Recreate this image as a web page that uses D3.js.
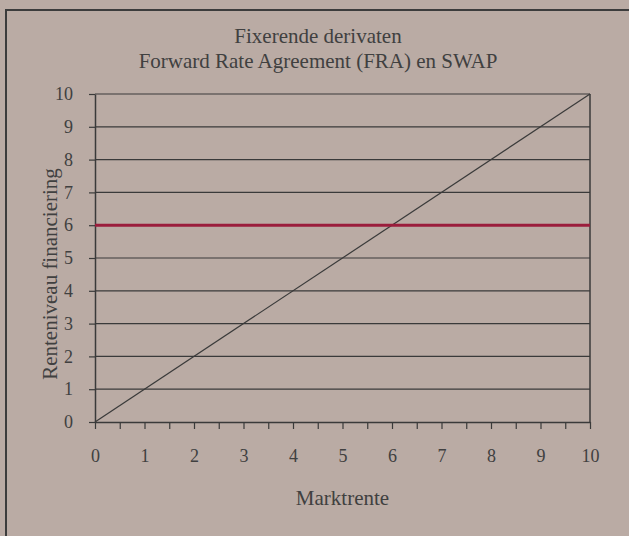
<!DOCTYPE html>
<html>
<head>
<meta charset="utf-8">
<script src="https://cdn.jsdelivr.net/npm/d3@7"></script>
<style>
  html, body { margin: 0; padding: 0; background: #baaba4; }
  svg { display: block; }
</style>
</head>
<body>
<div id="chart"></div>
<script>
const titleLines = ["Fixerende derivaten", "Forward Rate Agreement (FRA) en SWAP"];
const xLabel = "Marktrente";
const yLabel = "Renteniveau financiering";
const xTicks = [0, 1, 2, 3, 4, 5, 6, 7, 8, 9, 10];
const yTicks = [0, 1, 2, 3, 4, 5, 6, 7, 8, 9, 10];
const marketRate = [[0, 0], [10, 10]];   // variabele rente volgt marktrente
const fixedRate = [[0, 6], [10, 6]];     // gefixeerde rente via FRA / SWAP

const width = 629, height = 536;
const margins = { top: 94, right: 39, bottom: 114, left: 95 };
const innerWidth = width - margins.left - margins.right;
const innerHeight = height - margins.top - margins.bottom;
const font = "'Liberation Serif', 'Times New Roman', serif";
const ink = "#3a3a3a";

const svg = d3.select("#chart").append("svg")
    .attr("width", width)
    .attr("height", height)
    .style("font-family", font);

svg.append("rect")
    .attr("width", width).attr("height", height)
    .attr("fill", "#baaba4");

// outer frame: only top and left edges are inside the picture
svg.append("path")
    .attr("d", `M6,${height} V10 H${width}`)
    .attr("fill", "none")
    .attr("stroke", "#3c3c3c")
    .attr("stroke-width", 2);

// title
svg.append("g").selectAll("text")
    .data(titleLines)
    .join("text")
    .attr("x", 318)
    .attr("y", (d, i) => 43 + i * 25)
    .attr("text-anchor", "middle")
    .attr("font-size", 21)
    .attr("fill", "#404040")
    .text(d => d);

const x = d3.scaleLinear().domain([0, 10]).range([0, innerWidth]);
const y = d3.scaleLinear().domain([0, 10]).range([innerHeight, 0]);

const g = svg.append("g")
    .attr("transform", `translate(${margins.left},${margins.top})`);

// horizontal gridlines
g.append("g")
    .selectAll("line")
    .data(yTicks.filter(d => d > 0))
    .join("line")
    .attr("x1", 0).attr("x2", innerWidth)
    .attr("y1", d => y(d)).attr("y2", d => y(d))
    .attr("stroke", ink)
    .attr("stroke-width", 1.2);

// right border of plot
g.append("line")
    .attr("x1", innerWidth).attr("x2", innerWidth)
    .attr("y1", 0).attr("y2", innerHeight)
    .attr("stroke", ink)
    .attr("stroke-width", 1.5);

// y axis
g.append("g")
    .call(d3.axisLeft(y).tickValues(yTicks).tickSize(6).tickPadding(16).tickSizeOuter(0))
    .call(a => a.select(".domain").attr("stroke", ink).attr("stroke-width", 1.5))
    .call(a => a.selectAll(".tick line").attr("stroke", ink).attr("stroke-width", 1.2))
    .call(a => a.selectAll("text")
        .attr("font-family", font)
        .attr("font-size", 18)
        .attr("fill", "#404040"));

// x axis with half-step minor ticks
const minorTicks = d3.range(0.5, 10, 1);
g.append("g")
    .attr("transform", `translate(0,${innerHeight})`)
    .call(d3.axisBottom(x).tickValues(minorTicks).tickSize(7).tickFormat("").tickSizeOuter(0))
    .call(a => a.select(".domain").remove())
    .call(a => a.selectAll(".tick line").attr("stroke", ink).attr("stroke-width", 1.2));

g.append("g")
    .attr("transform", `translate(0,${innerHeight})`)
    .call(d3.axisBottom(x).tickValues(xTicks).tickSize(7).tickPadding(20).tickSizeOuter(0))
    .call(a => a.select(".domain").attr("stroke", ink).attr("stroke-width", 1.5))
    .call(a => a.selectAll(".tick line").attr("stroke", ink).attr("stroke-width", 1.2))
    .call(a => a.selectAll("text")
        .attr("font-family", font)
        .attr("font-size", 18)
        .attr("fill", "#404040"));

const line = d3.line().x(d => x(d[0])).y(d => y(d[1]));

g.append("path")
    .datum(marketRate)
    .attr("d", line)
    .attr("fill", "none")
    .attr("stroke", ink)
    .attr("stroke-width", 1.2);

g.append("path")
    .datum(fixedRate)
    .attr("d", line)
    .attr("fill", "none")
    .attr("stroke", "#9b1d3c")
    .attr("stroke-width", 3);

// axis titles
svg.append("text")
    .attr("x", margins.left + innerWidth / 2)
    .attr("y", 505)
    .attr("text-anchor", "middle")
    .attr("font-size", 21)
    .attr("fill", "#404040")
    .text(xLabel);

svg.append("text")
    .attr("transform", `translate(57,274) rotate(-90)`)
    .attr("text-anchor", "middle")
    .attr("font-size", 21)
    .attr("fill", "#404040")
    .text(yLabel);
</script>
</body>
</html>
